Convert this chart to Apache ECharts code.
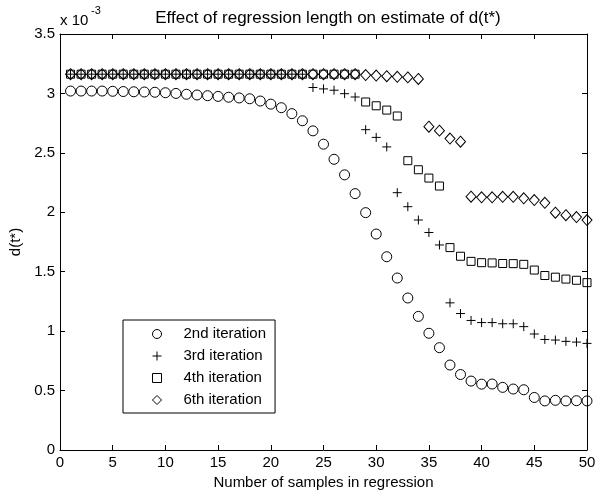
<!DOCTYPE html>
<html>
<head>
<meta charset="utf-8">
<script src="https://cdn.jsdelivr.net/npm/echarts@6/dist/echarts.min.js"></script>
<style>
  html,body{margin:0;padding:0;background:#fff}
  #chart{width:597px;height:490px}
</style>
</head>
<body>
<div id="chart"></div>
<script>
// number of samples in the regression (x)
const samples = [1,2,3,4,5,6,7,8,9,10,11,12,13,14,15,16,17,18,19,20,21,22,23,24,25,
                 26,27,28,29,30,31,32,33,34,35,36,37,38,39,40,41,42,43,44,45,46,47,48,49,50];

// d(t*) estimates, in units of 1e-3
const iter2 = [3.02,3.02,3.02,3.02,3.018,3.016,3.014,3.012,3.01,3.006,
               3.0,2.993,2.987,2.981,2.975,2.968,2.962,2.955,2.936,2.91,
               2.88,2.83,2.77,2.685,2.573,2.446,2.315,2.157,1.997,1.817,
               1.626,1.447,1.279,1.124,0.982,0.861,0.715,0.635,0.58,0.554,
               0.555,0.527,0.513,0.507,0.442,0.413,0.418,0.413,0.415,0.413];
const iter3 = [3.162,3.162,3.162,3.162,3.162,3.162,3.162,3.162,3.162,3.162,
               3.162,3.162,3.162,3.162,3.162,3.162,3.162,3.162,3.162,3.162,
               3.162,3.162,3.162,3.05,3.038,3.027,2.998,2.97,2.695,2.63,
               2.55,2.165,2.047,1.935,1.83,1.725,1.238,1.148,1.09,1.072,
               1.072,1.062,1.062,1.038,0.976,0.93,0.925,0.914,0.908,0.897];
const iter4 = [3.162,3.162,3.162,3.162,3.162,3.162,3.162,3.162,3.162,3.162,
               3.162,3.162,3.162,3.162,3.162,3.162,3.162,3.162,3.162,3.162,
               3.162,3.162,3.162,3.162,3.162,3.162,3.162,3.162,2.928,2.896,
               2.86,2.81,2.434,2.358,2.288,2.221,1.703,1.63,1.587,1.576,
               1.574,1.569,1.568,1.562,1.514,1.468,1.454,1.438,1.428,1.408];
const iter6 = [3.162,3.162,3.162,3.162,3.162,3.162,3.162,3.162,3.162,3.162,
               3.162,3.162,3.162,3.162,3.162,3.162,3.162,3.162,3.162,3.162,
               3.162,3.162,3.162,3.162,3.162,3.162,3.162,3.162,3.155,3.15,
               3.145,3.14,3.135,3.122,2.72,2.687,2.62,2.594,2.131,2.126,
               2.126,2.13,2.13,2.118,2.103,2.08,1.997,1.976,1.96,1.935];

const seriesNames = ['2nd iteration','3rd iteration','4th iteration','6th iteration'];
const xTicks = [0,5,10,15,20,25,30,35,40,45,50];
const yTicks = [0,0.5,1,1.5,2,2.5,3,3.5];

const FONT = '"Liberation Sans", Arial, Helvetica, sans-serif';
const FS = 15;
const PLUS = 'path://M0,5L10,5M5,0L5,10';
const hollow = { color: 'transparent', borderColor: '#000', borderWidth: 1, opacity: 1 };

function pts(ys){ return samples.map((x,i)=>[x, ys[i]]); }

function markerSeries(name, ys, symbol, size){
  return {
    name: name, type: 'scatter', data: pts(ys),
    symbol: symbol, symbolSize: size,
    itemStyle: hollow,
    emphasis: { disabled: true },
    animation: false
  };
}

const axisCommon = {
  type: 'value',
  axisLine: { show: true, onZero: false, lineStyle: { color: '#000', width: 1 } },
  axisTick: { show: true, inside: true, length: 5, lineStyle: { color: '#000' } },
  splitLine: { show: false }
};

const chart = echarts.init(document.getElementById('chart'), null, { renderer: 'canvas' });
chart.setOption({
  animation: false,
  backgroundColor: '#fff',
  textStyle: { fontFamily: FONT },
  title: {
    text: 'Effect of regression length on estimate of d(t*)',
    left: 323, top: 5, textAlign: 'center',
    textStyle: { fontFamily: FONT, fontSize: 17, fontWeight: 'normal', color: '#000' }
  },
  grid: { left: 60, right: 10, top: 34, bottom: 40, containLabel: false, outerBoundsMode: 'none' },
  xAxis: [
    Object.assign({}, axisCommon, {
      min: 0, max: 50, interval: 5, position: 'bottom',
      name: 'Number of samples in regression', nameLocation: 'middle', nameGap: 18,
      nameTextStyle: { fontFamily: FONT, fontSize: FS, color: '#000' },
      axisLabel: { show: true, margin: 5, color: '#000', fontFamily: FONT, fontSize: FS,
        formatter: v => xTicks.includes(v) ? String(v) : '' }
    }),
    Object.assign({}, axisCommon, {
      min: 0, max: 50, interval: 5, position: 'top', axisLabel: { show: false }
    })
  ],
  yAxis: [
    Object.assign({}, axisCommon, {
      min: 0, max: 3.5, interval: 0.5, position: 'left',
      name: 'd(t*)', nameLocation: 'middle', nameGap: 30, nameRotate: 90,
      nameTextStyle: { fontFamily: FONT, fontSize: FS, color: '#000' },
      axisLabel: { show: true, margin: 5, color: '#000', fontFamily: FONT, fontSize: FS,
        formatter: v => yTicks.includes(v) ? String(v) : '' }
    }),
    Object.assign({}, axisCommon, {
      min: 0, max: 3.5, interval: 0.5, position: 'right', axisLabel: { show: false }
    })
  ],
  legend: {
    data: seriesNames,
    orient: 'vertical',
    left: 123, top: 320,
    padding: [6, 9, 5, 29],
    itemGap: 6,
    itemWidth: 9, itemHeight: 9,
    itemStyle: hollow,
    backgroundColor: '#fff',
    borderColor: '#000', borderWidth: 1, borderRadius: 0,
    selectedMode: false,
    textStyle: { fontFamily: FONT, fontSize: FS, color: '#000', lineHeight: 16, padding: [0, 0, 0, 17] }
  },
  graphic: [
    { type: 'text', left: 60, top: 13, style: { text: 'x 10', font: FS + 'px ' + FONT, fill: '#000' } },
    { type: 'text', left: 91, top: 5, style: { text: '-3', font: '11px ' + FONT, fill: '#000' } }
  ],
  series: [
    markerSeries(seriesNames[0], iter2, 'circle', 10),
    markerSeries(seriesNames[1], iter3, PLUS, 9),
    markerSeries(seriesNames[2], iter4, 'rect', 8),
    markerSeries(seriesNames[3], iter6, 'diamond', [10, 11])
  ]
});
</script>
</body>
</html>
